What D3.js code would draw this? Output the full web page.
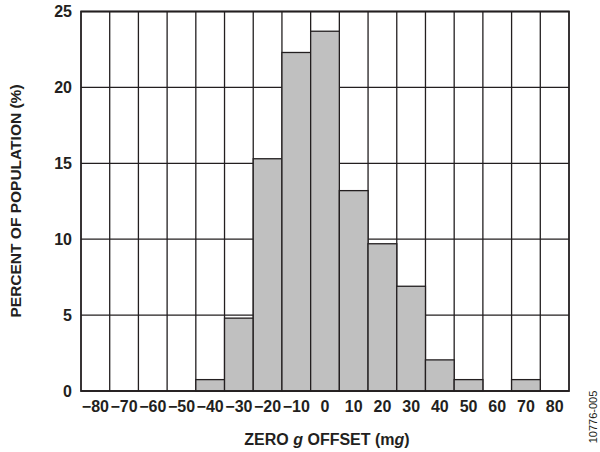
<!DOCTYPE html>
<html>
<head>
<meta charset="utf-8">
<script src="https://cdn.jsdelivr.net/npm/d3@7"></script>
<style>
  body { margin: 0; background: #fff; }
  text { font-family: "Liberation Sans", Arial, sans-serif; fill: #231f20; }
</style>
</head>
<body>
<svg id="chart" width="600" height="452"></svg>
<script>
// bin centres (mg) and percent of population in each bin
var offsets = [-80, -70, -60, -50, -40, -30, -20, -10, 0, 10, 20, 30, 40, 50, 60, 70, 80];
var percents = [0, 0, 0, 0, 0.75, 4.8, 15.3, 22.3, 23.7, 13.2, 9.7, 6.9, 2.05, 0.75, 0, 0.75, 0];
var yTicks = [0, 5, 10, 15, 20, 25];

var svg = d3.select("#chart");
var margin = {top: 11.5, right: 31, bottom: 61, left: 81};
var width = 600, height = 452;
var ink = "#231f20";

var x = d3.scaleBand()
    .domain(offsets)
    .range([margin.left, width - margin.right])
    .padding(0);

var y = d3.scaleLinear()
    .domain([0, 25])
    .range([height - margin.bottom, margin.top]);

// horizontal grid
svg.append("g")
  .selectAll("line").data(yTicks).enter().append("line")
    .attr("x1", margin.left).attr("x2", width - margin.right)
    .attr("y1", d => y(d)).attr("y2", d => y(d))
    .attr("stroke", ink).attr("stroke-width", 1.3);

// vertical grid, one line per bin edge
svg.append("g")
  .selectAll("line").data(offsets.slice(1)).enter().append("line")
    .attr("x1", d => x(d)).attr("x2", d => x(d))
    .attr("y1", y(0)).attr("y2", y(25))
    .attr("stroke", ink).attr("stroke-width", 1.3);

var data = offsets.map((o, i) => ({offset: o, pct: percents[i]}));

svg.append("g")
  .selectAll("rect").data(data.filter(d => d.pct > 0)).enter().append("rect")
    .attr("x", d => x(d.offset))
    .attr("y", d => y(d.pct))
    .attr("width", x.bandwidth())
    .attr("height", d => y(0) - y(d.pct))
    .attr("fill", "#c0c0c0")
    .attr("stroke", ink)
    .attr("stroke-width", 1.3);

// frame
svg.append("rect")
    .attr("x", margin.left).attr("y", y(25))
    .attr("width", width - margin.right - margin.left)
    .attr("height", y(0) - y(25))
    .attr("fill", "none").attr("stroke", ink).attr("stroke-width", 1.8);

var fmt = d => d < 0 ? "\u2212" + Math.abs(d) : String(d);

var xAxis = g => g
  .attr("transform", `translate(0,${y(0)})`)
  .call(d3.axisBottom(x).tickSize(0).tickPadding(10).tickFormat(fmt))
  .call(g => g.select(".domain").remove());

var yAxis = g => g
  .attr("transform", `translate(${margin.left},0)`)
  .call(d3.axisLeft(y).tickValues(yTicks).tickSize(0).tickPadding(9))
  .call(g => g.select(".domain").remove());

svg.append("g").call(xAxis);
svg.append("g").call(yAxis);
svg.selectAll(".tick text")
    .attr("fill", ink)
    .style("font-weight", "bold")
    .style("font-size", "16px");

// axis titles
var xt = svg.append("text")
    .attr("x", 327)
    .attr("y", 445)
    .attr("text-anchor", "middle")
    .style("font-weight", "bold")
    .style("font-size", "16px");
xt.append("tspan").text("ZERO ");
xt.append("tspan").style("font-style", "italic").text("g");
xt.append("tspan").text(" OFFSET (m");
xt.append("tspan").style("font-style", "italic").text("g");
xt.append("tspan").text(")");

svg.append("text")
    .attr("transform", "translate(21,201) rotate(-90)")
    .attr("text-anchor", "middle")
    .style("font-weight", "bold")
    .style("font-size", "15.5px")
    .text("PERCENT OF POPULATION (%)");

svg.append("text")
    .attr("transform", "translate(597,417) rotate(-90)")
    .attr("text-anchor", "middle")
    .style("font-size", "11px")
    .text("10776-005");
</script>
</body>
</html>
